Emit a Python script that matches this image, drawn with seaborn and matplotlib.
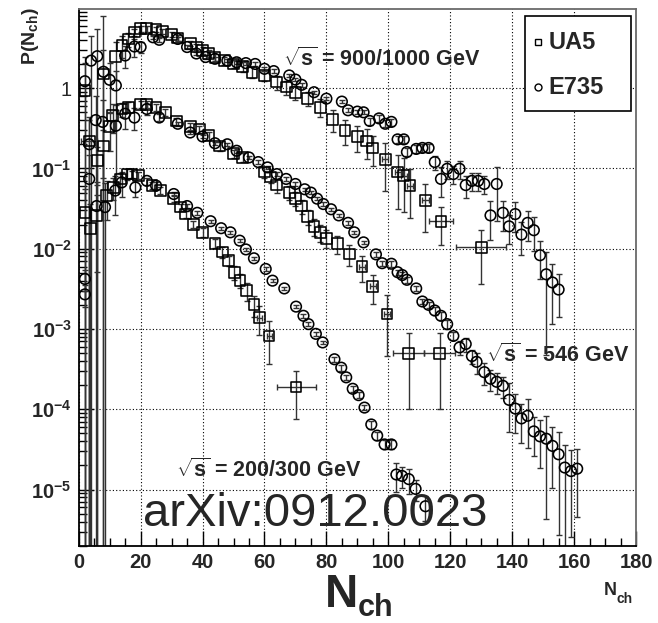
import numpy as np
import matplotlib
matplotlib.use("Agg")
import matplotlib.pyplot as plt
import seaborn as sns
from matplotlib.ticker import FixedLocator, MultipleLocator, LogLocator, NullFormatter, FixedFormatter
from matplotlib.patches import Rectangle

# ---------------- data ----------------
# sqrt(s) = 900/1000 GeV
n_ua5_900 = [2, 8, 12, 14, 16, 18, 20, 22, 25, 27, 30, 32, 36, 38, 40, 42, 44, 47, 50, 53, 56, 60,
             64, 67, 70, 74, 78, 82, 86, 90, 93, 95, 99, 103, 105, 107, 112, 117, 130]
p_ua5_900 = [0.93, 1.5, 2.5, 3.4, 4.1, 5.0, 5.5, 5.5, 5.4, 5.1, 4.7, 4.2, 3.6, 3.25, 2.95, 2.7, 2.4, 2.2,
             2.0, 1.86, 1.58, 1.44, 1.19, 1.03, 0.89, 0.74, 0.58, 0.41, 0.30, 0.25, 0.22, 0.18, 0.13,
             0.09, 0.081, 0.061, 0.04, 0.022, 0.0104]
rel_ua5_900 = [1.2, 1.0, 0.5, 0.3, 0.2, 0.1, 0.08, 0.08, 0.08, 0.08, 0.08, 0.08, 0.08, 0.08, 0.1, 0.1,
               0.1, 0.12, 0.12, 0.15, 0.15, 0.15, 0.2, 0.2, 0.2, 0.2, 0.25, 0.3, 0.35, 0.35, 0.4, 0.4,
               0.6, 0.65, 0.65, 0.6, 0.6, 0.5, 0.65]
xerr_ua5_900 = [0] * 32 + [1, 1, 1, 1, 1, 4, 8]

n_e735_1000 = [2, 4, 6, 8, 10, 12, 15, 18, 20, 24, 26, 32, 35, 38, 41, 44, 48, 51, 54, 57, 60, 63, 68,
               70, 72, 76, 80, 85, 87, 90, 92, 94, 97, 99, 101, 103, 105, 106, 109, 111, 113, 115,
               117, 119, 121, 123, 125, 127, 129, 131, 133, 135, 137, 139, 141, 143, 145, 147, 149,
               151, 153, 155]
p_e735_1000 = [1.22, 2.2, 2.5, 1.6, 1.27, 1.08, 2.55, 3.3, 3.25, 4.3, 4.0, 4.1, 3.25, 2.7, 2.44, 2.32,
               2.2, 2.1, 2.05, 2.0, 1.74, 1.63, 1.44, 1.28, 1.10, 0.89, 0.74, 0.68, 0.53, 0.51, 0.50,
               0.39, 0.42, 0.36, 0.38, 0.23, 0.23, 0.16, 0.175, 0.18, 0.18, 0.12, 0.074, 0.099,
               0.085, 0.099, 0.062, 0.07, 0.07, 0.064, 0.026, 0.064, 0.028, 0.019, 0.027, 0.015,
               0.021, 0.017, 0.0083, 0.0048, 0.0038, 0.0031]
rel_e735_1000 = [1.0, 1.0, 1.2, 4.0, 0.6, 0.5, 0.3, 0.25, 0.15, 0.05, 0.05, 0.05, 0.05, 0.05, 0.05,
                 0.05, 0.05, 0.05, 0.05, 0.05, 0.05, 0.05, 0.05, 0.05, 0.05, 0.05, 0.05, 0.05, 0.06,
                 0.06, 0.06, 0.1, 0.1, 0.1, 0.1, 0.1, 0.1, 0.12, 0.12, 0.12, 0.12, 0.2, 0.4, 0.25,
                 0.25, 0.25, 0.3, 0.25, 0.25, 0.25, 0.5, 0.65, 0.4, 0.4, 0.4, 0.45, 0.4, 0.45, 0.5,
                 0.9, 0.7, 0.55]

# sqrt(s) = 546 GeV
n_ua5_546 = [3.4, 6, 8, 10, 11, 14, 16, 20, 22, 25, 28, 31.5, 36, 39, 42, 45.5, 50, 53, 60, 62, 64,
             68, 70, 72, 74, 76, 78, 80, 83.5, 87.4, 91.5, 95, 99.6, 106.6, 116.6]
p_ua5_546 = [0.22, 0.125, 0.19, 0.33, 0.455, 0.55, 0.58, 0.62, 0.62, 0.58, 0.50, 0.39, 0.33, 0.31,
             0.256, 0.19, 0.152, 0.138, 0.09, 0.078, 0.062, 0.050, 0.042, 0.034, 0.025, 0.019, 0.016,
             0.0135, 0.0115, 0.0086, 0.006, 0.0034, 0.00154, 0.0005, 0.0005]
rel_ua5_546 = [1.0, 0.5, 0.6, 0.5, 0.4, 0.2, 0.15, 0.1, 0.1, 0.1, 0.1, 0.1, 0.1, 0.1, 0.12, 0.12,
               0.12, 0.12, 0.15, 0.15, 0.2, 0.2, 0.2, 0.2, 0.2, 0.25, 0.25, 0.25, 0.25, 0.3, 0.35,
               0.4, 0.7, 0.8, 0.8]
xerr_ua5_546 = [2.5] + [0] * 29 + [1, 1, 1, 5, 5]

n_e735_546 = [2, 3.4, 5.5, 7.7, 12, 15, 18, 22, 26, 32, 36, 40, 44, 48, 51, 55, 58, 61, 64, 67, 70,
              73, 75, 77, 79, 81.5, 84, 87, 89, 92, 96, 98, 101, 103, 104.5, 106, 109, 111, 113, 115,
              117, 119, 121, 123, 125, 127, 128.5, 131, 133, 135, 137, 139, 141, 143, 145, 147, 149,
              151, 153, 155, 157, 159, 161]
p_e735_546 = [0.0042, 0.2, 0.40, 0.38, 0.34, 0.48, 0.43, 0.55, 0.43, 0.36, 0.28, 0.25, 0.206, 0.20,
              0.166, 0.137, 0.12, 0.103, 0.085, 0.074, 0.064, 0.055, 0.050, 0.042, 0.036, 0.031,
              0.026, 0.021, 0.016, 0.012, 0.0085, 0.0066, 0.0065, 0.0051, 0.0047, 0.0041, 0.0032,
              0.0022, 0.0020, 0.0017, 0.00146, 0.00115, 0.00082, 0.00059, 0.00065, 0.00046, 0.00039,
              0.00029, 0.00024, 0.00022, 0.000196, 0.000131, 0.000102, 0.000077, 0.000083,
              0.000053, 0.000046, 0.000043, 0.000035, 0.0000275, 0.0000188, 0.000017, 0.0000182]
rel_e735_546 = [0.3, 1.0, 1.0, 0.9, 0.8, 0.35, 0.3, 0.15, 0.1, 0.05, 0.05, 0.05, 0.05, 0.05, 0.05,
                0.05, 0.05, 0.05, 0.05, 0.05, 0.05, 0.05, 0.05, 0.05, 0.05, 0.05, 0.05, 0.05, 0.05,
                0.05, 0.08, 0.08, 0.08, 0.08, 0.08, 0.08, 0.08, 0.08, 0.08, 0.12, 0.12, 0.12, 0.12,
                0.2, 0.2, 0.2, 0.3, 0.3, 0.3, 0.3, 0.3, 0.6, 0.5, 0.5, 0.6, 0.5, 0.6, 0.9, 0.7, 0.9,
                0.9, 0.85, 0.75]

# sqrt(s) = 200/300 GeV
n_ua5_200 = [2, 3.7, 5.8, 9.1, 11.2, 13.4, 15.6, 17.2, 19.3, 23.7, 26.4, 30.7, 32.9, 34.5, 37, 40,
             44, 46.4, 48.5, 50.2, 52.1, 54.3, 56.6, 58.3, 61.5, 70.2]
p_ua5_200 = [0.028, 0.018, 0.026, 0.046, 0.058, 0.074, 0.085, 0.085, 0.081, 0.061, 0.053, 0.042,
             0.033, 0.027, 0.020, 0.016, 0.0117, 0.0091, 0.0071, 0.0051, 0.004, 0.003, 0.002,
             0.00139, 0.00082, 0.00019]
rel_ua5_200 = [1.0, 1.0, 0.8, 0.5, 0.3, 0.2, 0.15, 0.1, 0.1, 0.1, 0.1, 0.1, 0.1, 0.1, 0.1, 0.12,
               0.12, 0.15, 0.15, 0.2, 0.2, 0.25, 0.3, 0.4, 0.55, 0.6]
xerr_ua5_200 = [0] * 23 + [0.8, 0.8, 6.3]

n_e735_300 = [2, 3.4, 5.8, 8.5, 11.8, 13.9, 18.3, 22, 25, 30.7, 35, 38.3, 42.6, 46, 49, 52, 54, 56.6,
              60.4, 62.6, 66.4, 70.2, 72.6, 74.2, 76.6, 78.8, 82.6, 84.8, 86.4, 88.5, 90.4, 92.3,
              94.5, 96.4, 98.8, 101, 102.6, 104.4, 106.6, 108.8, 112]
p_e735_300 = [0.0027, 0.074, 0.034, 0.033, 0.053, 0.067, 0.058, 0.07, 0.061, 0.048, 0.034, 0.028,
              0.022, 0.018, 0.016, 0.0126, 0.0098, 0.0076, 0.0056, 0.004, 0.0032, 0.0019, 0.00146,
              0.00115, 0.00087, 0.00068, 0.00042, 0.00033, 0.00025, 0.00018, 0.00015, 0.000105,
              0.0000647, 0.000047, 0.0000365, 0.0000365, 0.0000154, 0.0000148, 0.0000135,
              0.0000102, 0.0000062]
rel_e735_300 = [0.3, 1.0, 1.0, 1.0, 0.5, 0.35, 0.25, 0.1, 0.1, 0.05, 0.05, 0.05, 0.05, 0.05, 0.05,
                0.05, 0.05, 0.05, 0.05, 0.05, 0.05, 0.05, 0.05, 0.05, 0.05, 0.05, 0.08, 0.08, 0.08,
                0.08, 0.08, 0.08, 0.12, 0.12, 0.12, 0.12, 0.4, 0.3, 0.35, 0.3, 0.35]

x_ticks = [0, 20, 40, 60, 80, 100, 120, 140, 160, 180]
y_ticks = [1e-5, 1e-4, 1e-3, 1e-2, 1e-1, 1]
y_tick_labels = [r"$10^{-5}$", r"$10^{-4}$", r"$10^{-3}$", r"$10^{-2}$", r"$10^{-1}$", "1"]
energy_labels = [r"$\sqrt{s}$ = 900/1000 GeV", r"$\sqrt{s}$ = 546 GeV", r"$\sqrt{s}$ = 200/300 GeV"]
legend_labels = ["UA5", "E735"]
legend_markers = ["s", "o"]

# ---------------- style ----------------
sns.set_style("ticks")
plt.rcParams["font.family"] = ["Liberation Sans", "DejaVu Sans"]
plt.rcParams["mathtext.fontset"] = "custom"
plt.rcParams["mathtext.rm"] = "Liberation Sans:bold"
plt.rcParams["mathtext.it"] = "Liberation Sans:bold"
plt.rcParams["mathtext.bf"] = "Liberation Sans:bold"

fig = plt.figure(figsize=(6.58, 6.23), dpi=100)
ax = fig.add_axes([0.1196, 0.1241, 0.847, 0.861])
ax.set_yscale("log")
ax.set_xlim(0, 180)
ax.set_ylim(2e-6, 9.6)

YMIN = 1e-9


def draw(n, p, rel, marker, size, xerr=None):
    n = np.asarray(n, float)
    p = np.asarray(p, float)
    err = p * np.asarray(rel, float)
    lo = np.minimum(err, p - YMIN)
    ax.errorbar(n, p, yerr=[lo, err], fmt="none", ecolor="#333333", elinewidth=1.0,
                capsize=2.3, capthick=1.0, zorder=2)
    if xerr is not None:
        xe = np.asarray(xerr, float)
        m = xe > 0
        ax.errorbar(n[m], p[m], xerr=xe[m], fmt="none", ecolor="#333333", elinewidth=1.0,
                    capsize=2.3, capthick=1.0, zorder=2)
    sns.scatterplot(x=n, y=p, marker=marker, s=size, facecolor="none", edgecolor="black",
                    linewidth=1.15, ax=ax, zorder=3, legend=False)


draw(n_ua5_900, p_ua5_900, rel_ua5_900, "s", 60, xerr_ua5_900)
draw(n_e735_1000, p_e735_1000, rel_e735_1000, "o", 58)
draw(n_ua5_546, p_ua5_546, rel_ua5_546, "s", 60, xerr_ua5_546)
draw(n_e735_546, p_e735_546, rel_e735_546, "o", 58)
draw(n_ua5_200, p_ua5_200, rel_ua5_200, "s", 60, xerr_ua5_200)
draw(n_e735_300, p_e735_300, rel_e735_300, "o", 58)

# axes, ticks, grid
ax.xaxis.set_major_locator(FixedLocator(x_ticks))
ax.xaxis.set_minor_locator(MultipleLocator(5))
ax.yaxis.set_major_locator(FixedLocator(y_ticks))
ax.yaxis.set_major_formatter(FixedFormatter(y_tick_labels))
ax.yaxis.set_minor_locator(LogLocator(base=10, subs=np.arange(2, 10)))
ax.yaxis.set_minor_formatter(NullFormatter())
ax.tick_params(which="both", direction="in", top=False, right=False, width=1.0, color="black")
ax.tick_params(which="major", length=11, labelsize=14.5, pad=5)
ax.tick_params(which="minor", length=6)
for lab in ax.get_xticklabels():
    lab.set_fontweight("bold")
ax.grid(True, which="major", linestyle=(0, (1, 2)), color="black", linewidth=0.8)
for s in ["left", "bottom"]:
    ax.spines[s].set_color("black")
    ax.spines[s].set_linewidth(1.3)
for s in ["top", "right"]:
    ax.spines[s].set_color("#6a6a6a")
    ax.spines[s].set_linewidth(1.3)
ax.set_xlabel("")
ax.set_ylabel("")

# labels
fig.text(0.047, 0.988, r"P(N$_{ch}$)", rotation=90, ha="center", va="top", fontsize=14,
         fontweight="bold")
fig.text(0.494, 0.0257, "N", ha="left", va="baseline", fontsize=33, fontweight="bold")
fig.text(0.543, 0.012, "ch", ha="left", va="baseline", fontsize=22, fontweight="bold")
fig.text(0.917, 0.045, "N", ha="left", va="baseline", fontsize=13, fontweight="bold")
fig.text(0.937, 0.032, "ch", ha="left", va="baseline", fontsize=10, fontweight="bold")

# energy annotations (data coordinates)
ax.text(66, 2.27, energy_labels[0], fontsize=15.5, fontweight="bold", va="center", ha="left")
ax.text(131.5, 4.7e-4, energy_labels[1], fontsize=15.5, fontweight="bold", va="center", ha="left")
ax.text(31.5, 1.75e-5, energy_labels[2], fontsize=15.5, fontweight="bold", va="center", ha="left")

# watermark-like text
ax.text(0.115, 0.0595, "arXiv:0912.0023", transform=ax.transAxes, fontsize=34, ha="left",
        va="center", fontweight="normal", zorder=5)

# legend box (drawn in axes fraction coordinates)
ax.add_patch(Rectangle((0.8008, 0.8104), 0.1903, 0.1771, transform=ax.transAxes,
                       facecolor="white", edgecolor="black", linewidth=1.2, zorder=6,
                       clip_on=False))
for row_y, mk, lab in zip([0.939, 0.855], legend_markers, legend_labels):
    ax.plot([0.8241], [row_y], marker=mk, ms=5, mfc="none", mec="black", mew=1.0,
            ls="none", transform=ax.transAxes, zorder=7, clip_on=False)
    ax.text(0.8423, row_y, lab, transform=ax.transAxes, fontsize=17, fontweight="bold",
            ha="left", va="center", zorder=7)

fig.savefig("out.png", dpi=100)
